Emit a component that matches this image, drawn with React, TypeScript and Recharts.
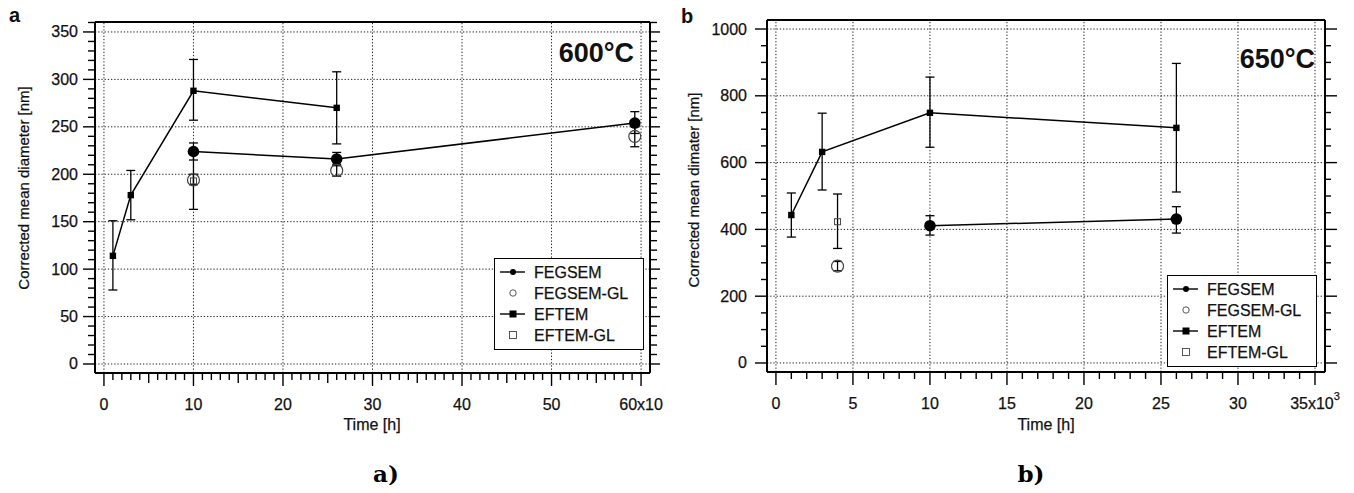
import React from "react";
import {
  ScatterChart,
  Scatter,
  XAxis,
  YAxis,
  ErrorBar,
  ReferenceLine,
  Legend,
} from "recharts";

const FONT = '"Liberation Sans", Arial, Helvetica, sans-serif';
const INK = "#111";

// ---- panel a: 600°C (time in 10^3 h, diameter in nm) ----
const aFegsemTime = [10, 26, 59.3];
const aFegsemSize = [224, 216, 254];
const aFegsemLow = [215, 209, 243];
const aFegsemHigh = [233, 223, 266];

const aFegsemGlTime = [10, 26, 59.3];
const aFegsemGlSize = [194, 204, 240];
const aFegsemGlLow = [189, 198, 229];
const aFegsemGlHigh = [200, 210, 251];

const aEftemTime = [1, 3, 10, 26];
const aEftemSize = [114, 178, 288, 270];
const aEftemLow = [78, 152, 257, 232];
const aEftemHigh = [151, 204, 321, 308];

const aEftemGlTime = [10];
const aEftemGlSize = [193];
const aEftemGlLow = [163];
const aEftemGlHigh = [225];

// ---- panel b: 650°C ----
const bFegsemTime = [10, 26];
const bFegsemSize = [411, 431];
const bFegsemLow = [383, 389];
const bFegsemHigh = [441, 468];

const bFegsemGlTime = [4];
const bFegsemGlSize = [290];
const bFegsemGlLow = [276];
const bFegsemGlHigh = [304];

const bEftemTime = [1, 3, 10, 26];
const bEftemSize = [443, 632, 749, 704];
const bEftemLow = [377, 518, 646, 512];
const bEftemHigh = [509, 748, 856, 897];

const bEftemGlTime = [4];
const bEftemGlSize = [423];
const bEftemGlLow = [343];
const bEftemGlHigh = [506];

// axis ticks
const aXMajor = [0, 10, 20, 30, 40, 50, 60];
const aXLabels = ["0", "10", "20", "30", "40", "50", "60x10"];
const aYMajor = [0, 50, 100, 150, 200, 250, 300, 350];
const bXMajor = [0, 5, 10, 15, 20, 25, 30, 35];
const bXLabels = ["0", "5", "10", "15", "20", "25", "30", "35x10"];
const bYMajor = [0, 200, 400, 600, 800, 1000];

const range = (from: number, to: number, step: number) => {
  const out: number[] = [];
  for (let v = from; v <= to + 1e-9; v += step) out.push(Math.round(v * 100) / 100);
  return out;
};

const toPoints = (t: number[], v: number[], lo: number[], hi: number[]) =>
  t.map((x, i) => ({ x, y: v[i], err: [v[i] - lo[i], hi[i] - v[i]] }));

// markers
const FilledCircle = (p: any) => <circle cx={p.cx} cy={p.cy} r={5.8} fill="#000" />;
const OpenCircle = (p: any) => (
  <circle cx={p.cx} cy={p.cy} r={6} fill="none" stroke="#444" strokeWidth={1.2} />
);
const FilledSquare = (p: any) => (
  <rect x={p.cx - 3.2} y={p.cy - 3.2} width={6.4} height={6.4} fill="#000" />
);
const OpenSquare = (p: any) => (
  <rect x={p.cx - 3} y={p.cy - 3} width={6} height={6} fill="none" stroke="#444" strokeWidth={1} />
);

const SERIES = [
  { name: "FEGSEM", shape: FilledCircle, line: true, kind: "circle", filled: true },
  { name: "FEGSEM-GL", shape: OpenCircle, line: false, kind: "circle", filled: false },
  { name: "EFTEM", shape: FilledSquare, line: true, kind: "square", filled: true },
  { name: "EFTEM-GL", shape: OpenSquare, line: false, kind: "square", filled: false },
];

const textStyle = { fontFamily: FONT, fill: INK, stroke: INK, strokeWidth: 0.25 };

const LegendBox = () => (
  <div
    style={{
      width: 150,
      height: 92,
      boxSizing: "border-box",
      border: "1.5px solid #000",
      background: "#fff",
      position: "relative",
    }}
  >
    <svg width={150} height={92} style={{ position: "absolute", left: -1.5, top: -1.5 }}>
      {SERIES.map((s, i) => {
        const cy = 14 + i * 21;
        return (
          <g key={s.name}>
            {s.line && <line x1={6} x2={31} y1={cy} y2={cy} stroke="#000" strokeWidth={1.4} />}
            {s.kind === "circle" ? (
              <circle
                cx={19}
                cy={cy}
                r={s.filled ? 3 : 3.2}
                fill={s.filled ? "#000" : "none"}
                stroke={s.filled ? "none" : "#444"}
                strokeWidth={0.9}
              />
            ) : (
              <rect
                x={15.5}
                y={cy - 3.5}
                width={7}
                height={7}
                fill={s.filled ? "#000" : "none"}
                stroke={s.filled ? "none" : "#444"}
                strokeWidth={0.9}
              />
            )}
            <text x={40} y={cy + 5.5} fontSize={16} {...textStyle}>
              {s.name}
            </text>
          </g>
        );
      })}
    </svg>
  </div>
);

type TickLens = { major: number; mid: number; minor: number };

const makeTick =
  (
    side: "bottom" | "top" | "left" | "right",
    majors: number[],
    mids: number[],
    lens: TickLens,
    labels?: string[],
    labelGap = 17,
    sup?: string
  ) =>
  (props: any) => {
    const { x, y, payload } = props;
    const v = payload.value;
    const mi = majors.indexOf(v);
    const len = mi >= 0 ? lens.major : mids.includes(v) ? lens.mid : lens.minor;
    const sw = 1.4;
    if (side === "bottom") {
      const label = labels && mi >= 0 ? labels[mi] : null;
      const isLast = labels && mi === majors.length - 1;
      return (
        <g>
          <line x1={x} x2={x} y1={y} y2={y + len} stroke="#000" strokeWidth={sw} />
          {label && (
            <text x={x} y={y + 37} textAnchor="middle" fontSize={16} {...textStyle}>
              {label}
              {isLast && sup ? (
                <tspan fontSize={11} dy={-9}>
                  {sup}
                </tspan>
              ) : null}
            </text>
          )}
        </g>
      );
    }
    if (side === "top") {
      return <line x1={x} x2={x} y1={y} y2={y - len} stroke="#000" strokeWidth={sw} />;
    }
    if (side === "left") {
      return (
        <g>
          <line x1={x} x2={x - len} y1={y} y2={y} stroke="#000" strokeWidth={sw} />
          {mi >= 0 && (
            <text x={x - labelGap} y={y + 5.5} textAnchor="end" fontSize={16} {...textStyle}>
              {v}
            </text>
          )}
        </g>
      );
    }
    return <line x1={x} x2={x + len} y1={y} y2={y} stroke="#000" strokeWidth={sw} />;
  };

type PanelCfg = {
  left: number;
  margin: { top: number; right: number; bottom: number; left: number };
  xDomain: [number, number];
  yDomain: [number, number];
  xMajor: number[];
  xLabels: string[];
  xMid: number[];
  xMinor: number[];
  yMajor: number[];
  yMinor: number[];
  xSup?: string;
  yLabelGap: number;
  lens: { bottom: TickLens; top: TickLens; left: TickLens; right: TickLens };
  legend: { left: number; top: number };
  series: any[][];
};

const axisLine = { stroke: "#000", strokeWidth: 2 };
const gridProps = { stroke: "#222", strokeWidth: 1, strokeDasharray: "1.3 1.9" };

const Panel = ({ cfg }: { cfg: PanelCfg }) => (
  <div style={{ position: "absolute", left: cfg.left, top: 0 }}>
    <ScatterChart width={677} height={493} margin={cfg.margin}>
      <XAxis
        xAxisId="b"
        type="number"
        dataKey="x"
        domain={cfg.xDomain}
        allowDataOverflow
        ticks={cfg.xMinor}
        interval={0}
        tickSize={0}
        tickMargin={0}
        tickLine={false}
        axisLine={axisLine}
        height={1}
        tick={makeTick("bottom", cfg.xMajor, cfg.xMid, cfg.lens.bottom, cfg.xLabels, 0, cfg.xSup)}
      />
      <XAxis
        xAxisId="t"
        orientation="top"
        type="number"
        domain={cfg.xDomain}
        allowDataOverflow
        ticks={cfg.xMinor}
        interval={0}
        tickSize={0}
        tickMargin={0}
        tickLine={false}
        axisLine={axisLine}
        height={1}
        tick={makeTick("top", cfg.xMajor, cfg.xMid, cfg.lens.top)}
      />
      <YAxis
        yAxisId="l"
        type="number"
        dataKey="y"
        domain={cfg.yDomain}
        allowDataOverflow
        ticks={cfg.yMinor}
        interval={0}
        tickSize={0}
        tickMargin={0}
        tickLine={false}
        axisLine={axisLine}
        width={1}
        tick={makeTick("left", cfg.yMajor, [], cfg.lens.left, undefined, cfg.yLabelGap)}
      />
      <YAxis
        yAxisId="r"
        orientation="right"
        type="number"
        domain={cfg.yDomain}
        allowDataOverflow
        ticks={cfg.yMinor}
        interval={0}
        tickSize={0}
        tickMargin={0}
        tickLine={false}
        axisLine={axisLine}
        width={1}
        tick={makeTick("right", cfg.yMajor, [], cfg.lens.right)}
      />
      {cfg.xMajor.map((v) => (
        <ReferenceLine key={"gx" + v} x={v} xAxisId="b" yAxisId="l" {...gridProps} />
      ))}
      {cfg.yMajor.map((v) => (
        <ReferenceLine key={"gy" + v} y={v} xAxisId="b" yAxisId="l" {...gridProps} />
      ))}
      {SERIES.map((s, i) => (
        <Scatter
          key={s.name}
          name={s.name}
          data={cfg.series[i]}
          xAxisId="b"
          yAxisId="l"
          shape={s.shape}
          line={s.line ? { stroke: "#000", strokeWidth: 1.5 } : false}
          lineType="joint"
          isAnimationActive={false}
        >
          <ErrorBar
            dataKey="err"
            direction="y"
            width={4.5}
            stroke="#000"
            strokeWidth={1.3}
            isAnimationActive={false}
          />
        </Scatter>
      ))}
      <Legend
        layout="vertical"
        align="center"
        verticalAlign="middle"
        wrapperStyle={{ left: cfg.legend.left, top: cfg.legend.top, width: 150, height: 92 }}
        content={() => <LegendBox />}
      />
    </ScatterChart>
  </div>
);

const panelA: PanelCfg = {
  left: 0,
  margin: { top: 21, right: 26, bottom: 119, left: 94 },
  xDomain: [-1, 61],
  yDomain: [-9.5, 360.5],
  xMajor: aXMajor,
  xLabels: aXLabels,
  xMid: [5, 15, 25, 35, 45, 55],
  xMinor: range(0, 60, 1),
  yMajor: aYMajor,
  yMinor: range(0, 360, 10),
  yLabelGap: 17,
  lens: {
    bottom: { major: 13, mid: 10, minor: 7 },
    top: { major: 9, mid: 7, minor: 5 },
    left: { major: 12, mid: 7, minor: 7 },
    right: { major: 10, mid: 7, minor: 7 },
  },
  legend: { left: 494, top: 258 },
  series: [
    toPoints(aFegsemTime, aFegsemSize, aFegsemLow, aFegsemHigh),
    toPoints(aFegsemGlTime, aFegsemGlSize, aFegsemGlLow, aFegsemGlHigh),
    toPoints(aEftemTime, aEftemSize, aEftemLow, aEftemHigh),
    toPoints(aEftemGlTime, aEftemGlSize, aEftemGlLow, aEftemGlHigh),
  ],
};

const panelB: PanelCfg = {
  left: 677,
  margin: { top: 19, right: 28, bottom: 120, left: 89 },
  xDomain: [-0.58, 35.65],
  yDomain: [-27, 1027],
  xMajor: bXMajor,
  xLabels: bXLabels,
  xMid: [],
  xMinor: range(0, 35, 1),
  yMajor: bYMajor,
  yMinor: range(0, 1000, 50),
  xSup: "3",
  yLabelGap: 20,
  lens: {
    bottom: { major: 13, mid: 7, minor: 7 },
    top: { major: 10, mid: 7, minor: 7 },
    left: { major: 12, mid: 6, minor: 6 },
    right: { major: 12, mid: 6, minor: 6 },
  },
  legend: { left: 1167 - 677, top: 275 },
  series: [
    toPoints(bFegsemTime, bFegsemSize, bFegsemLow, bFegsemHigh),
    toPoints(bFegsemGlTime, bFegsemGlSize, bFegsemGlLow, bFegsemGlHigh),
    toPoints(bEftemTime, bEftemSize, bEftemLow, bEftemHigh),
    toPoints(bEftemGlTime, bEftemGlSize, bEftemGlLow, bEftemGlHigh),
  ],
};

export default function App() {
  return (
    <div
      style={{
        position: "relative",
        width: 1354,
        height: 493,
        margin: -8,
        background: "#fff",
        overflow: "hidden",
      }}
    >
      <Panel cfg={panelA} />
      <Panel cfg={panelB} />
      <svg
        width={1354}
        height={493}
        style={{ position: "absolute", left: 0, top: 0, pointerEvents: "none" }}
      >
        <g fontFamily={FONT} fill={INK}>
          <text x={9} y={22} fontSize={20} fontWeight="bold">a</text>
          <text x={681} y={23} fontSize={20} fontWeight="bold">b</text>
          <text x={634} y={62} fontSize={27} fontWeight="bold" textAnchor="end">600°C</text>
          <text x={1315} y={68} fontSize={27} fontWeight="bold" textAnchor="end">650°C</text>
        </g>
        <g {...textStyle}>
          <text x={372} y={430} fontSize={16} textAnchor="middle">Time [h]</text>
          <text x={1046} y={430} fontSize={16} textAnchor="middle">Time [h]</text>
          <text
            x={23}
            y={188}
            fontSize={15}
            textAnchor="middle"
            dominantBaseline="central"
            transform="rotate(-90 23 188)"
          >
            Corrected mean diameter [nm]
          </text>
          <text
            x={693}
            y={190}
            fontSize={15}
            textAnchor="middle"
            dominantBaseline="central"
            transform="rotate(-90 693 190)"
          >
            Corrected mean dimater [nm]
          </text>
        </g>
        <g fontFamily='"DejaVu Serif", "Liberation Serif", serif' fontWeight="bold" fill="#000">
          <text x={386} y={482} fontSize={23} textAnchor="middle">a)</text>
          <text x={1031} y={482} fontSize={23} textAnchor="middle">b)</text>
        </g>
      </svg>
    </div>
  );
}
